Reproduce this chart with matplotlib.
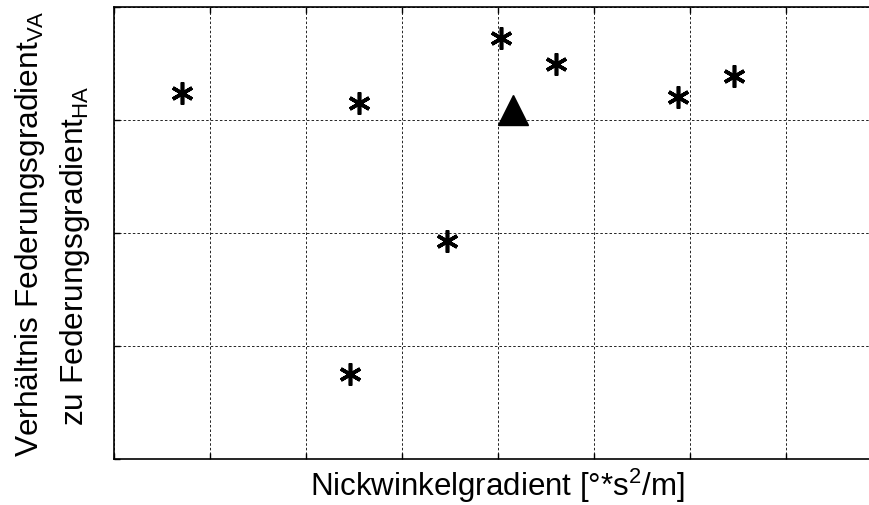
import matplotlib.pyplot as plt
from matplotlib.ticker import MultipleLocator, NullFormatter

plt.rcParams['font.family'] = ['Liberation Sans', 'DejaVu Sans']
plt.rcParams['mathtext.fontset'] = 'custom'
plt.rcParams['mathtext.rm'] = 'Liberation Sans'

# Messpunkte (Achsen ohne Skalenbeschriftung, Einheiten = Gitterabstände)
x_var = [0.71, 2.56, 2.46, 3.47, 4.03, 4.61, 5.88, 6.46]
y_var = [3.24, 3.15, 0.75, 1.93, 3.73, 3.50, 3.21, 3.39]
x_ref = [4.16]
y_ref = [3.09]

W, H = 870, 506
fig = plt.figure(figsize=(W / 100, H / 100), dpi=100)
ax = fig.add_axes([0.1307, 0.0909, 0.8827, 0.8927])

ax.plot(x_var, y_var, linestyle='none', marker=(6, 2, 0), markersize=16,
        markeredgewidth=2.6, color='black')
ax.plot(x_ref, y_ref, linestyle='none', marker='^', markersize=21, color='black')

ax.set_xlim(0, 8)
ax.set_ylim(0, 4)
ax.xaxis.set_major_locator(MultipleLocator(1))
ax.yaxis.set_major_locator(MultipleLocator(1))
ax.xaxis.set_major_formatter(NullFormatter())
ax.yaxis.set_major_formatter(NullFormatter())
ax.tick_params(direction='in', length=4, width=1, top=True, right=True)
ax.grid(True, color='black', linestyle=(0, (3, 2.5)), linewidth=0.6)
for s in ax.spines.values():
    s.set_linewidth(1.2)

ax.set_xlabel('Nickwinkelgradient [°*s$^\\mathregular{2}$/m]', fontsize=22.5, labelpad=1)

# y-Beschriftung zweizeilig, Zeilen einzeln gesetzt
ylab1 = 'Verhältnis Federungsgradient$_\\mathregular{VA}$'
ylab2 = 'zu Federungsgradient$_\\mathregular{HA}$'
fig.text(38 / W, 1 - 234 / H, ylab1, fontsize=22.8, rotation=90,
         rotation_mode='anchor', ha='center', va='baseline')
fig.text(83 / W, 1 - 256 / H, ylab2, fontsize=22.8, rotation=90,
         rotation_mode='anchor', ha='center', va='baseline')

fig.savefig('out.png', dpi=100)
